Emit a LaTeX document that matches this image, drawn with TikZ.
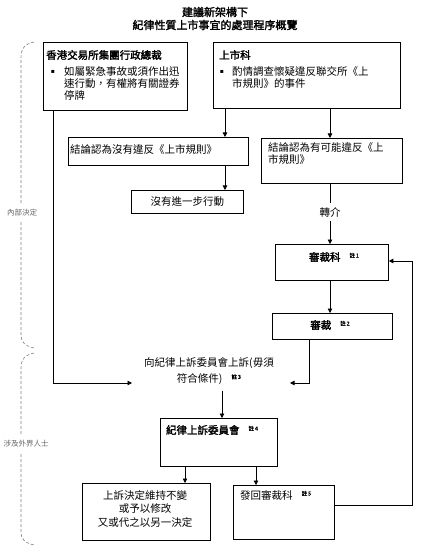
\documentclass[tikz,border=0pt]{standalone}
\usepackage{fontspec}
\setmainfont{Noto Sans CJK TC}[AutoFakeBold=2]
\newfontfamily\dv{DejaVu Sans}
\usetikzlibrary{arrows.meta}
\newcommand\zhu[1]{\hspace{9pt}\raisebox{3.5pt}{\fontsize{5.5}{6}\selectfont\bfseries 註\,#1}}
\begin{document}
\begin{tikzpicture}[x=1pt,y=-1pt,
 box/.style={draw,line width=0.8pt,anchor=north west,inner sep=0pt},
 txt/.style={inner sep=0pt,font=\fontsize{10.5}{12}\selectfont},
 btxt/.style={inner sep=0pt,font=\fontsize{10.5}{12}\selectfont\bfseries},
 bul/.style={inner sep=0pt,font=\dv\fontsize{6}{6}\selectfont},
 side/.style={inner sep=0pt,font=\fontsize{7.5}{9}\selectfont,text=black!60},
 arr/.style={-{Triangle[length=4.5pt,width=4.5pt]},line width=0.8pt},
 con/.style={line width=0.8pt},
 brk/.style={dash pattern=on 3pt off 2pt, draw=black!50, line width=0.6pt}]
\fill[white] (0,0) rectangle (426,553);
\useasboundingbox (0,0) rectangle (426,553);

% title
\node[inner sep=0pt,font=\fontsize{11}{13}\selectfont\bfseries,align=center] (title) at (215,18.5) {建議新架構下\\紀律性質上市事宜的處理程序概覽};

% boxes
\node[box,minimum width=144pt,minimum height=68pt] (b1) at (43,42) {};
\node[box,minimum width=187pt,minimum height=66pt] (b2) at (213,42) {};
\node[box,minimum width=180pt,minimum height=28pt] (b3) at (68,137) {};
\node[box,minimum width=112pt,minimum height=23pt] (b4) at (131,190) {};
\node[box,minimum width=141pt,minimum height=45pt] (b5) at (261,138) {};
\node[box,minimum width=113pt,minimum height=36pt] (b6) at (275,244) {};
\node[box,minimum width=120pt,minimum height=26pt] (b7) at (272,313) {};
\node[box,minimum width=117pt,minimum height=48pt] (b8) at (160,418) {};
\node[box,minimum width=128pt,minimum height=57pt] (b9) at (82,483) {};
\node[box,minimum width=101pt,minimum height=54pt] (b10) at (233,485) {};

% texts
\node[btxt,anchor=west] (t1h) at (46,55) {香港交易所集團行政總裁};
\node[bul] (t1b) at (53,72) {▪};
\node[txt,anchor=north west,align=left] (t1) at (64,66.5) {如屬緊急事故或須作出迅\\速行動，有權將有關證券\\停牌};
\node[btxt,anchor=west] (t2h) at (219,55) {上市科};
\node[bul] (t2b) at (222,72) {▪};
\node[txt,anchor=north west,align=left] (t2) at (232,66.5) {酌情調查懷疑違反聯交所《上\\市規則》的事件};
\node[txt,anchor=west] (t3) at (70,150) {結論認為沒有違反《上市規則》};
\node[txt] (t4) at (b4.center) {沒有進一步行動};
\node[txt,anchor=north west,align=left] (t5) at (268,142.5) {結論認為有可能違反《上\\市規則》};
\node[txt] (ref) at (330,212) {轉介};
\node[btxt] (t6) at (334,257) {審裁科\zhu{1}};
\node[btxt] (t7) at (330,325) {審裁\zhu{2}};
\node[txt,align=center,font=\fontsize{10.5}{16}\selectfont] (appeal) at (209,371) {向紀律上訴委員會上訴(毋須\\符合條件)\zhu{3}};
\node[btxt] (t8) at (212,430) {紀律上訴委員會\zhu{4}};
\node[txt,align=center,font=\fontsize{10.5}{13.5}\selectfont] (t9) at (145,508.5) {上訴決定維持不變\\或予以修改\\又或代之以另一決定};
\node[txt,anchor=west] (t10) at (240,495) {發回審裁科\zhu{5}};

% side labels
\node[side] (s1) at (22,213) {內部決定};
\node[side] (s2) at (26,444) {涉及外界人士};
\draw[brk] (34,42) .. controls (25,44) and (21,48) .. (21,58) -- (21,205);
\draw[brk] (21,222) -- (21,335) .. controls (21,342) and (25,346) .. (34,348);
\draw[brk] (34,353) .. controls (25,355) and (21,359) .. (21,368) -- (21,435);
\draw[brk] (21,454) -- (21,533) .. controls (21,539) and (25,543) .. (34,545);

% connector helpers
\coordinate (xa) at (225,0);
\coordinate (xb) at (330,0);
\coordinate (xc) at (53,0);
\coordinate (xd) at (309,0);
\coordinate (xe) at (222,0);
\coordinate (xf) at (185,0);
\coordinate (xg) at (256,0);
\coordinate (la) at (132,383);
\coordinate (ra) at (290,383);
\coordinate (r1) at (412,505);
\coordinate (r2) at (412,261);

% connectors
\draw[arr] (b2.south -| xa) -- (b3.north -| xa);
\draw[arr] (b3.south -| xa) -- (b4.north -| xa);
\draw[arr] (b2.south -| xb) -- (b5.north -| xb);
\draw[con] (b5.south -| xb) -- ([yshift=4pt]ref.north);
\draw[arr] ([yshift=-4pt]ref.south) -- (b6.north -| xb);
\draw[arr] (b6.south -| xb) -- (b7.north -| xb);
\draw[arr] (b1.south -| xc) |- (la);
\draw[arr] (b7.south -| xd) |- (ra);
\draw[arr] ([yshift=-6pt]appeal.south -| xe) -- (b8.north -| xe);
\draw[arr] (b8.south -| xf) -- (b9.north -| xf);
\draw[arr] (b8.south -| xg) -- (b10.north -| xg);
\draw[arr] (b10.east |- r1) -- (r1) -- (r2) -- (b6.east |- r2);
\end{tikzpicture}
\end{document}
